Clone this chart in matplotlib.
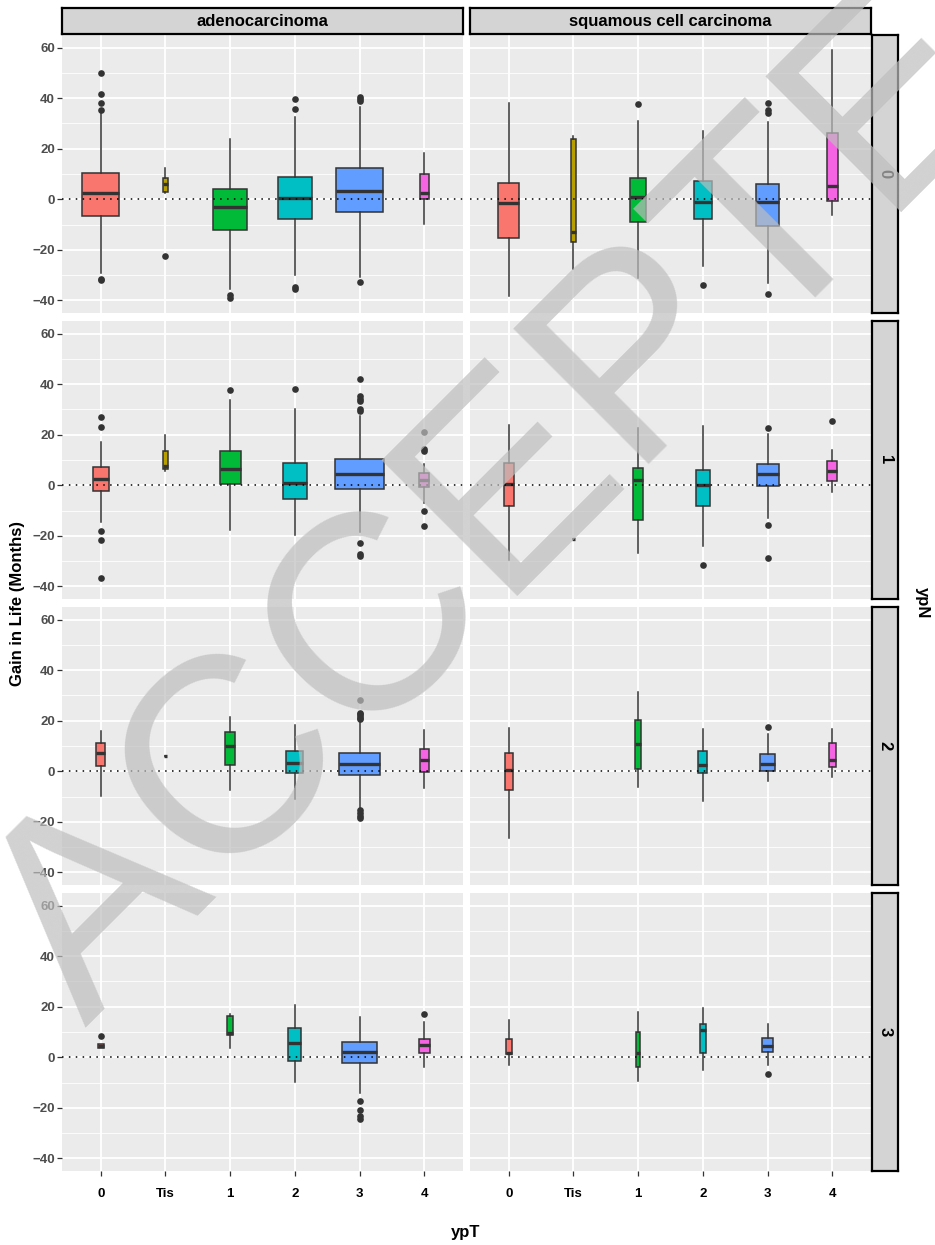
import numpy as np
import matplotlib
matplotlib.use("Agg")
import matplotlib.pyplot as plt
from matplotlib.ticker import MultipleLocator

plt.rcParams['font.family'] = ['Liberation Sans', 'DejaVu Sans']

histologies = ["adenocarcinoma", "squamous cell carcinoma"]
ypn_levels = ["0", "1", "2", "3"]
ypt_levels = ["0", "Tis", "1", "2", "3", "4"]
ypt_colors = ["#F8766D", "#B79F00", "#00BA38", "#00BFC4", "#619CFF", "#F564E3"]

# rows: adenocarcinoma ypN 0..3, then squamous cell carcinoma ypN 0..3
# columns: ypT 0, Tis, 1, 2, 3, 4  (None = no patients)
n_patients = [
    [286, 6, 248, 248, 449, 16],
    [51, 4, 91, 126, 500, 22],
    [17, 1, 21, 59, 351, 18],
    [8, None, 6, 36, 242, 24],
    [88, 5, 53, 72, 106, 25],
    [21, 1, 18, 39, 100, 19],
    [12, None, 9, 17, 51, 11],
    [7, None, 4, 7, 21, None],
]
whisk_lo = [
    [-29.0, 2.5, -35.4, -30.1, -30.6, -9.8],
    [-14.5, 5.5, -17.7, -19.5, -18.6, -7.0],
    [-9.7, 6.1, -7.6, -11.1, -14.5, -6.6],
    [3.7, None, 3.7, -9.9, -14.1, -4.0],
    [-38.1, -27.7, -31.0, -26.3, -33.2, -6.1],
    [-29.4, -21.2, -26.9, -24.1, -13.1, -2.6],
    [-26.6, None, -6.4, -11.6, -3.8, -2.2],
    [-3.2, None, -9.4, -4.9, -3.2, None],
]
q1 = [
    [-6.5, 2.8, -12.1, -7.7, -4.9, 0.1],
    [-2.1, 6.6, 0.4, -5.5, -1.3, -0.8],
    [2.2, 6.1, 2.6, -0.8, -1.4, -0.3],
    [3.7, None, 9.0, -1.3, -2.2, 1.7],
    [-15.4, -16.9, -9.0, -7.9, -10.6, -0.8],
    [-8.3, -21.2, -13.6, -8.3, -0.3, 1.7],
    [-7.6, None, 0.8, -0.5, 0.1, 1.7],
    [1.1, None, -4.0, 1.7, 2.2, None],
]
median = [
    [2.6, 5.9, -3.2, 0.7, 3.4, 2.5],
    [2.6, 7.8, 6.3, 0.9, 4.4, 2.0],
    [7.2, 6.1, 9.9, 3.4, 2.9, 4.5],
    [4.5, None, 9.6, 5.8, 2.0, 4.9],
    [-1.3, -13.1, 0.9, -1.2, -1.2, 5.1],
    [0.7, -21.2, 2.1, 0.0, 4.5, 5.7],
    [0.5, None, 10.9, 2.5, 2.9, 4.5],
    [1.8, None, 1.8, 10.7, 4.6, None],
]
q3 = [
    [10.3, 8.6, 4.2, 8.8, 12.5, 9.9],
    [7.1, 13.7, 13.6, 8.8, 10.4, 4.9],
    [11.3, 6.1, 15.4, 7.9, 7.1, 8.7],
    [5.1, None, 16.5, 11.5, 5.9, 7.3],
    [6.3, 24.0, 8.4, 7.1, 6.2, 26.4],
    [8.7, -21.2, 6.7, 6.2, 8.6, 9.5],
    [7.4, None, 20.1, 7.9, 7.0, 11.3],
    [7.3, None, 10.0, 13.3, 7.8, None],
]
whisk_hi = [
    [34.0, 12.5, 23.7, 32.7, 36.7, 18.2],
    [17.3, 19.7, 33.6, 30.3, 27.3, 8.4],
    [15.8, 6.1, 21.3, 18.4, 19.9, 16.2],
    [5.1, None, 17.3, 20.7, 16.1, 13.9],
    [37.9, 25.1, 31.1, 27.2, 30.6, 59.1],
    [24.0, -21.2, 22.6, 23.6, 20.2, 13.9],
    [17.2, None, 31.4, 16.6, 14.6, 16.8],
    [14.8, None, 18.1, 19.5, 13.3, None],
]
outliers = [
    [[35.5, 38.2, 41.8, 49.9, -31.9, -31.4], [-22.4], [-37.9, -38.9],
     [39.7, 35.8, -34.6, -35.4], [40.4, 39.6, 38.8, -32.6], []],
    [[26.9, 23.1, -17.9, -21.5, -36.8], [], [37.6], [37.9],
     [42.0, 35.2, 34.3, 33.5, 30.2, 29.2, -23.0, -27.0, -28.1],
     [21.0, 14.4, 13.5, -10.0, -16.0]],
    [[], [], [], [],
     [28.2, 23.2, 22.6, 22.0, 21.0, 20.5, -15.4, -16.5, -17.5, -18.5], []],
    [[8.6], [], [], [], [-17.4, -20.8, -23.1, -24.4], [17.2]],
    [[], [], [37.6], [-34.0], [38.0, 35.4, 34.0, -37.6], []],
    [[], [], [], [-31.4], [22.8, -15.8, -28.8], [25.6]],
    [[], [], [], [], [17.5], []],
    [[], [], [], [], [-6.7], []],
]

W, H = 935, 1245
fig = plt.figure(figsize=(W / 100, H / 100), dpi=100)


def px_axes(left, top, width, height):
    return fig.add_axes([left / W, 1 - (top + height) / H, width / W, height / H])


col_left = [62, 470]
col_w = 401
row_top = [35, 321, 607, 893]
row_h = 278

n_max = max(n for row in n_patients for n in row if n is not None)
edge = "#333333"

for c, hist in enumerate(histologies):
    for r, ypn in enumerate(ypn_levels):
        p = c * 4 + r
        ax = px_axes(col_left[c], row_top[r], col_w, row_h)
        ax.set_facecolor("#EBEBEB")
        for s in ax.spines.values():
            s.set_visible(False)

        stats, pos, widths, cols = [], [], [], []
        for k in range(len(ypt_levels)):
            if n_patients[p][k] is None:
                continue
            stats.append(dict(whislo=whisk_lo[p][k], q1=q1[p][k], med=median[p][k],
                              q3=q3[p][k], whishi=whisk_hi[p][k], fliers=outliers[p][k]))
            pos.append(k + 1)
            widths.append(0.76 * np.sqrt(n_patients[p][k] / n_max))
            cols.append(ypt_colors[k])

        bp = ax.bxp(stats, positions=pos, widths=widths, patch_artist=True, showcaps=False,
                    boxprops=dict(edgecolor=edge, linewidth=1.1),
                    whiskerprops=dict(color=edge, linewidth=1.1),
                    medianprops=dict(color=edge, linewidth=2.4),
                    flierprops=dict(marker="o", markersize=4.8, markerfacecolor=edge,
                                    markeredgecolor="none"),
                    zorder=3)
        for patch, col in zip(bp["boxes"], cols):
            patch.set_facecolor(col)

        ax.axhline(0, color="black", linestyle=(0, (1, 3.5)), linewidth=1.1, zorder=4)

        ax.set_xlim(0.4, 6.6)
        ax.set_ylim(-45, 65)
        ax.set_xticks(range(1, 7))
        ax.set_xticklabels(ypt_levels)
        ax.yaxis.set_major_locator(MultipleLocator(20))
        ax.yaxis.set_minor_locator(MultipleLocator(10))
        ax.grid(which="major", color="white", linewidth=1.3, zorder=0)
        ax.grid(which="minor", axis="y", color="white", linewidth=0.6, zorder=0)
        ax.set_axisbelow(True)
        ax.tick_params(which="minor", length=0)
        ax.tick_params(which="major", length=3.5, width=0.9, color=edge)
        ax.tick_params(axis="y", labelsize=9.5, labelcolor="#4D4D4D", pad=1.5)
        ax.tick_params(axis="x", labelsize=9.5, labelcolor="black", pad=9)
        for lab in ax.get_xticklabels() + ax.get_yticklabels():
            lab.set_fontweight("bold")
        if c == 1:
            ax.tick_params(axis="y", left=False, labelleft=False)
        if r < 3:
            ax.tick_params(axis="x", bottom=False, labelbottom=False)

        # facet strips
        if r == 0:
            sx = px_axes(col_left[c], 8, col_w, 26)
            sx.set_facecolor("#D4D4D4")
            sx.set_xticks([])
            sx.set_yticks([])
            for s in sx.spines.values():
                s.set_linewidth(1.6)
            sx.text(0.5, 0.47, hist, ha="center", va="center", fontsize=12,
                    fontweight="bold", transform=sx.transAxes)
        if c == 1:
            sy = px_axes(872, row_top[r], 26, row_h)
            sy.set_facecolor("#D4D4D4")
            sy.set_xticks([])
            sy.set_yticks([])
            for s in sy.spines.values():
                s.set_linewidth(1.6)
            sy.text(0.5, 0.5, ypn, ha="center", va="center", rotation=-90, fontsize=12,
                    fontweight="bold", transform=sy.transAxes)

fig.text(18 / W, 1 - 603 / H, "Gain in Life (Months)", rotation=90, ha="center",
         va="center", fontsize=12, fontweight="bold")
fig.text(466 / W, 1 - 1232 / H, "ypT", ha="center", va="center", fontsize=12,
         fontweight="bold")
fig.text(922 / W, 1 - 603 / H, "ypN", rotation=-90, ha="center", va="center",
         fontsize=12, fontweight="bold")

# watermark
fig.text(623 / W, 1 - 491 / H, "ACCEPTED", rotation=45, rotation_mode="anchor",
         ha="center", va="baseline", fontsize=201, color="#BEBEBE", alpha=0.7,
         zorder=10)

fig.savefig("out.png", dpi=100)
